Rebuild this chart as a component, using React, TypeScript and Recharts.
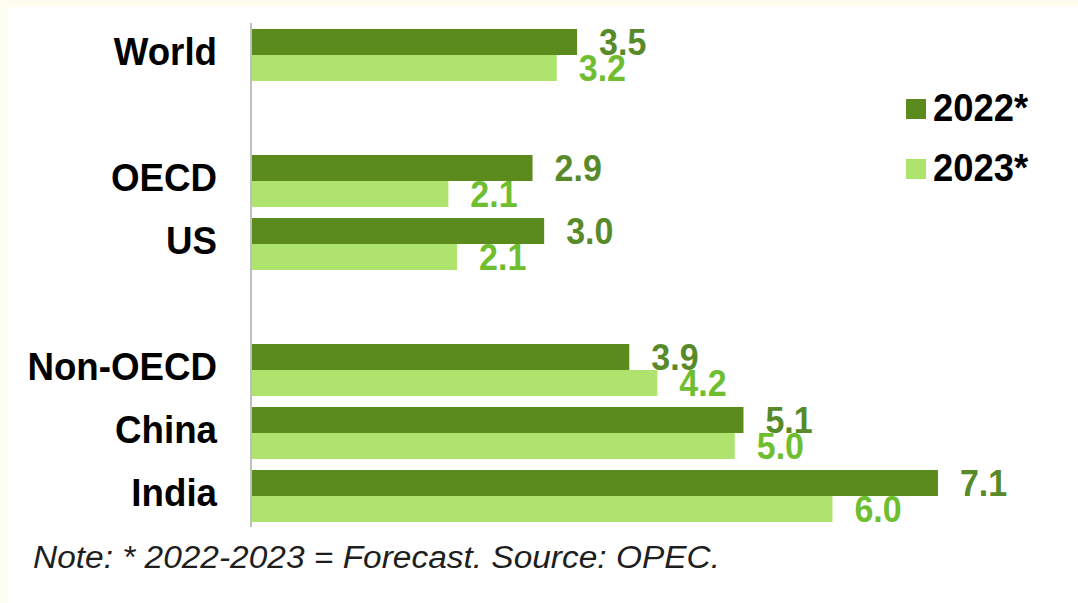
import React from 'react';
import { BarChart, Bar, XAxis, YAxis, LabelList, Legend } from 'recharts';

const categories = ['World', '', 'OECD', 'US', '', 'Non-OECD', 'China', 'India'];
const values2022 = [3.37, null, 2.91, 3.03, null, 3.91, 5.09, 7.1];
const values2023 = [3.16, null, 2.04, 2.13, null, 4.2, 5.0, 6.01];
const labels2022 = ['3.5', null, '2.9', '3.0', null, '3.9', '5.1', '7.1'];
const labels2023 = ['3.2', null, '2.1', '2.1', null, '4.2', '5.0', '6.0'];
const seriesNames = ['2022*', '2023*'];
const xTicks = [0, 2, 4, 6, 8];
const note = 'Note: * 2022-2023 = Forecast. Source: OPEC.';

const DARK = '#5B8A1D';
const LIGHT = '#AEE36E';
const DARK_LABEL = '#588A2A';
const LIGHT_LABEL = '#6EBE30';
const FONT = '"Liberation Sans", Arial, Helvetica, sans-serif';

const data = categories.map((name, i) => ({
  name,
  v2022: values2022[i],
  v2023: values2023[i],
  l2022: labels2022[i],
  l2023: labels2023[i],
}));

const CategoryTick = (props: any) => {
  const { x, y, payload } = props;
  if (!payload || !payload.value) return null;
  return (
    <text
      transform={`translate(${x},${y + 10.5}) scale(1,1.08)`}
      x={0}
      y={0}
      textAnchor="end"
      fill="#000"
      fontSize={36.7}
      fontWeight="bold"
      fontFamily={FONT}
    >
      {payload.value}
    </text>
  );
};

const makeValueLabel = (color: string) => (props: any) => {
  const { x, y, width, height, value } = props;
  if (value == null || value === '') return null;
  const cx = Number(x) + Number(width) + 22;
  const cy = Number(y) + Number(height) / 2;
  return (
    <text
      transform={`translate(${cx},${cy + 13}) scale(1,1.1)`}
      x={0}
      y={0}
      textAnchor="start"
      fill={color}
      fontSize={34}
      fontWeight="bold"
      fontFamily={FONT}
    >
      {value}
    </text>
  );
};

const LegendContent = () => {
  const colors = [DARK, LIGHT];
  return (
    <div style={{ fontFamily: FONT }}>
      {seriesNames.map((n, i) => (
        <div key={n} style={{ height: 60, display: 'flex', alignItems: 'center' }}>
          <div style={{ width: 20, height: 20, background: colors[i], marginRight: 7 }} />
          <span
            style={{
              fontSize: 36.4,
              fontWeight: 'bold',
              color: '#000',
              display: 'inline-block',
              transform: 'scaleY(1.08)',
              lineHeight: '40px',
              marginTop: -2,
            }}
          >
            {n}
          </span>
        </div>
      ))}
    </div>
  );
};

export default function App() {
  return (
    <div style={{ position: 'absolute', left: 0, top: 0, width: 1078, height: 603, background: '#FEFEF0', overflow: 'hidden' }}>
      <div style={{ position: 'absolute', left: 8, top: 7, width: 1070, height: 596, background: '#FFFFFF' }} />
      <div style={{ position: 'absolute', left: 0, top: 0 }}>
        <BarChart
          width={1078}
          height={603}
          data={data}
          layout="vertical"
          margin={{ top: 23, bottom: 76, left: 0, right: 53 }}
          barGap={0}
          barCategoryGap={6}
        >
          <XAxis type="number" domain={[0, 8]} ticks={xTicks} allowDataOverflow hide />
          <YAxis
            type="category"
            dataKey="name"
            width={251}
            interval={0}
            tickLine={false}
            tickSize={0}
            tickMargin={34}
            axisLine={{ stroke: '#BFBFBF', strokeWidth: 2 }}
            tick={<CategoryTick />}
          />
          <Legend
            layout="horizontal"
            verticalAlign="middle"
            align="center"
            content={<LegendContent />}
            wrapperStyle={{ position: 'absolute', left: 906, top: 79, width: 160 }}
          />
          <Bar dataKey="v2022" name={seriesNames[0]} fill={DARK} isAnimationActive={false}>
            <LabelList dataKey="l2022" content={makeValueLabel(DARK_LABEL)} />
          </Bar>
          <Bar dataKey="v2023" name={seriesNames[1]} fill={LIGHT} isAnimationActive={false}>
            <LabelList dataKey="l2023" content={makeValueLabel(LIGHT_LABEL)} />
          </Bar>
        </BarChart>
      </div>
      <svg width={1078} height={603} style={{ position: 'absolute', left: 0, top: 0, pointerEvents: 'none' }}>
        <text
          x={33}
          y={568}
          fontSize={31}
          fontStyle="italic"
          fill="#1E1E1E"
          fontFamily={FONT}
          textLength={687}
          lengthAdjust="spacingAndGlyphs"
        >
          {note}
        </text>
      </svg>
    </div>
  );
}
